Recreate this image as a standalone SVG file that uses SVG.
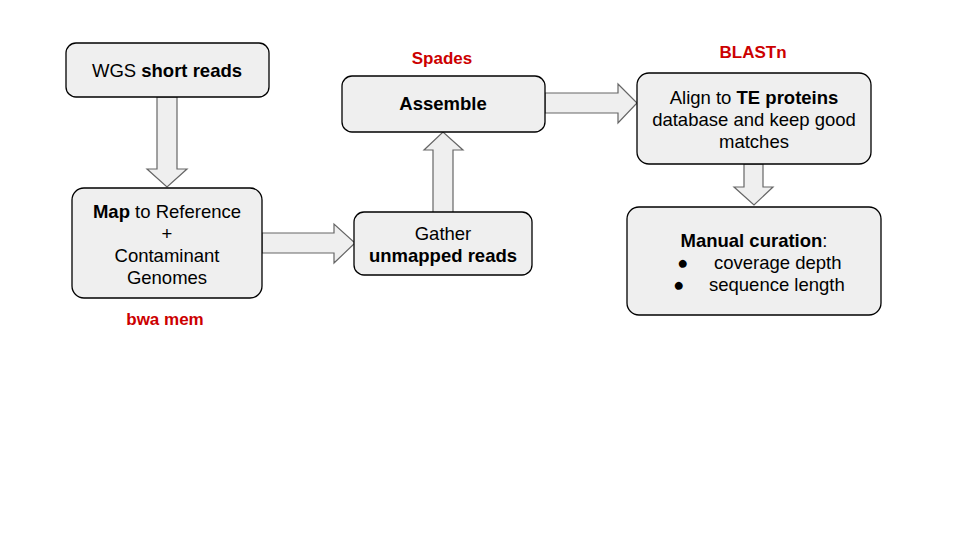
<svg xmlns="http://www.w3.org/2000/svg" width="960" height="540" viewBox="0 0 960 540">
<style>
.box{fill:#efefef;stroke:#000;stroke-width:1.3}
.arr{fill:#efefef;stroke:#666;stroke-width:1.2;stroke-linejoin:miter}
text{font-family:"Liberation Sans",Arial,sans-serif;font-size:18.5px;fill:#000}
.c{text-anchor:middle}
.b{font-weight:bold}
.lbl{font-size:17px;font-weight:bold;fill:#cc0000;text-anchor:middle}
</style>
<rect width="960" height="540" fill="#fff"/>
<g id="connectors">
<polygon class="arr" points="157,97 177,97 177,169 187,169 167,187 147,169 157,169"/>
<polygon class="arr" points="262,233 334,233 334,224 355,243 334,263 334,253 262,253"/>
<polygon class="arr" points="433,213 433,150 424,150 443,132 463,150 453,150 453,213"/>
<polygon class="arr" points="545,93 618,93 618,84 637,103 618,123 618,113 545,113"/>
<polygon class="arr" points="744,164 763,164 763,187 773,187 754,205 734,187 744,187"/>
</g>
<g id="wgs">
<rect class="box" x="66" y="43" width="203" height="54" rx="10"/>
<text class="c" x="167" y="77">WGS <tspan class="b">short reads</tspan></text>
</g>
<g id="map">
<rect class="box" x="72" y="188" width="190" height="110" rx="12"/>
<text class="c" x="167" y="218"><tspan class="b">Map</tspan> to Reference</text>
<text class="c" x="167" y="240">+</text>
<text class="c" x="167" y="262">Contaminant</text>
<text class="c" x="167" y="284">Genomes</text>
</g>
<g id="bwa"><text class="lbl" x="165" y="325">bwa mem</text></g>
<g id="gather">
<rect class="box" x="354" y="212" width="178" height="63" rx="10"/>
<text class="c" x="443" y="240">Gather</text>
<text class="c b" x="443" y="262">unmapped reads</text>
</g>
<g id="assemble">
<rect class="box" x="342" y="76" width="203" height="56" rx="10"/>
<text class="c b" x="443" y="110">Assemble</text>
</g>
<g id="spades"><text class="lbl" x="442" y="64">Spades</text></g>
<g id="align">
<rect class="box" x="637" y="73" width="234" height="91" rx="12"/>
<text class="c" x="754" y="104">Align to <tspan class="b">TE proteins</tspan></text>
<text class="c" x="754" y="126">database and keep good</text>
<text class="c" x="754" y="148">matches</text>
</g>
<g id="blastn"><text class="lbl" x="753" y="58">BLASTn</text></g>
<g id="manual">
<rect class="box" x="627" y="207" width="254" height="108" rx="12"/>
<text class="c" x="754" y="247"><tspan class="b">Manual curation</tspan>:</text>
<text x="677" y="269">●</text>
<text x="714" y="269">coverage depth</text>
<text x="673" y="291">●</text>
<text x="709" y="291">sequence length</text>
</g>
</svg>
